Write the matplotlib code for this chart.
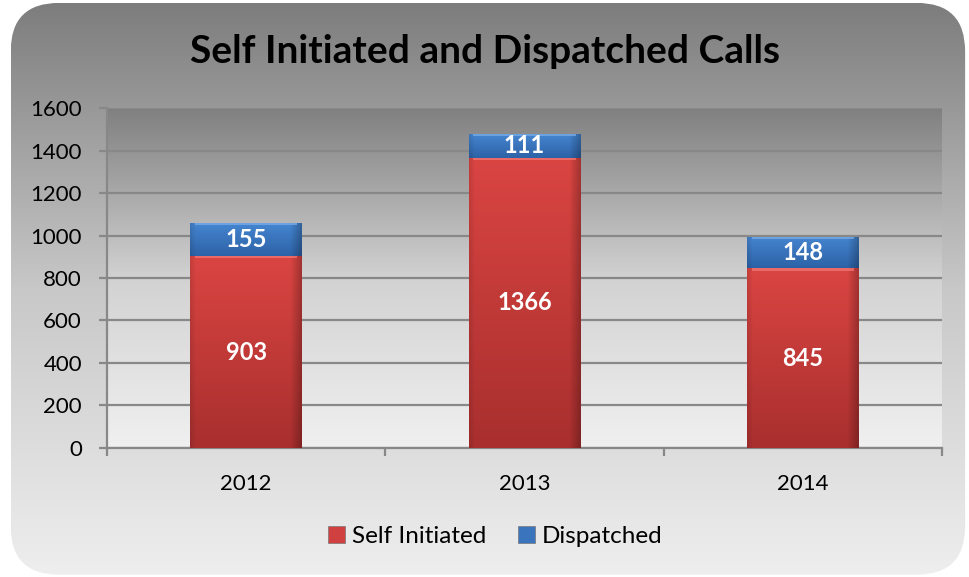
import numpy as np
import matplotlib.pyplot as plt
from matplotlib.patches import FancyBboxPatch
from matplotlib.colors import LinearSegmentedColormap, to_rgb

years = ['2012', '2013', '2014']
self_initiated = [903, 1366, 845]
dispatched = [155, 111, 148]

plt.rcParams['font.family'] = ['Lato', 'DejaVu Sans']


def bar_shade(top, bottom, nx=120, ny=120):
    # vertical gradient with darker edges (bevel look)
    t = np.linspace(0, 1, ny)[:, None, None]
    img = np.array(to_rgb(bottom)) * (1 - t) + np.array(to_rgb(top)) * t
    u = np.linspace(0, 1, nx)
    f = np.ones(nx)
    f = np.where(u < 0.05, 0.9 + 2 * u, f)
    f = np.where(u > 0.9, 1 - (u - 0.9) * 2.5, f)
    return np.clip(img * f[None, :, None], 0, 1)


fig = plt.figure(figsize=(9.69, 5.77), dpi=100)
fig.patch.set_facecolor('white')

# rounded gray background with vertical gradient
bg = fig.add_axes([0, 0, 1, 1], zorder=0)
bg.set_xlim(0, 1)
bg.set_ylim(0, 1)
bg.axis('off')
grad = np.linspace(0, 1, 256).reshape(-1, 1)
bg_cmap = LinearSegmentedColormap.from_list('bg', ['#eeeeee', '#c8c8c8', '#7d7d7d'])
im = bg.imshow(grad, extent=[0.011, 0.996, 0.004, 0.995], origin='lower',
               cmap=bg_cmap, aspect='auto', zorder=0)
frame = FancyBboxPatch((0.011, 0.004), 0.985, 0.991,
                       boxstyle='round,pad=0,rounding_size=0.05',
                       mutation_aspect=969 / 577, transform=bg.transAxes,
                       facecolor='none', edgecolor='none')
bg.add_patch(frame)
im.set_clip_path(frame)

ax = fig.add_axes([0.1104, 0.2236, 0.8617, 0.5892], zorder=1)
ax.set_facecolor('none')
pa_cmap = LinearSegmentedColormap.from_list('pa', ['#f0f0f0', '#d2d2d2', '#808080'])
ax.imshow(grad, extent=[0, 1, 0, 1], origin='lower', cmap=pa_cmap,
          aspect='auto', transform=ax.transAxes, zorder=0)

x = np.arange(len(years))
width = 0.40

ax.yaxis.grid(True, color='#888888', linewidth=1.6, zorder=1)
ax.set_axisbelow(True)

b1 = ax.bar(x, self_initiated, width, color='#d04040', zorder=3)
b2 = ax.bar(x, dispatched, width, bottom=self_initiated, color='#3a74bc', zorder=3)

red_img = bar_shade('#da4542', '#a82f2e')
blue_img = bar_shade('#4585d0', '#2d62a6')

for bars, img, hi in ((b1, red_img, '#f47a76'), (b2, blue_img, '#7fb0ea')):
    for p in bars:
        x0, y0 = p.get_x(), p.get_y()
        w, h = p.get_width(), p.get_height()
        g = ax.imshow(img, extent=[x0, x0 + w, y0, y0 + h], origin='lower',
                      aspect='auto', zorder=4)
        g.set_clip_path(p)
        # light bevel on top edge
        ax.fill_between([x0 + w * 0.04, x0 + w * 0.96], y0 + h - 10, y0 + h,
                        color=hi, alpha=0.7, lw=0, zorder=5)

for i in range(len(years)):
    ax.text(x[i], self_initiated[i] / 2, str(self_initiated[i]), ha='center', va='center',
            color='white', fontsize=17, fontweight='bold', zorder=6)
    ax.text(x[i], self_initiated[i] + dispatched[i] / 2, str(dispatched[i]), ha='center',
            va='center', color='white', fontsize=17, fontweight='bold', zorder=6)

ax.set_ylim(0, 1600)
ax.set_xlim(-0.5, len(years) - 0.5)
ax.set_yticks(np.arange(0, 1601, 200))

for s in ('top', 'right'):
    ax.spines[s].set_visible(False)
for s in ('left', 'bottom'):
    ax.spines[s].set_color('#888888')
    ax.spines[s].set_linewidth(1.6)

ax.set_xticks(np.arange(-0.5, len(years), 1.0))
ax.set_xticklabels([])
ax.set_xticks(x, minor=True)
ax.set_xticklabels(years, minor=True)
ax.tick_params(axis='x', which='major', length=6, color='#888888', width=1.6)
ax.tick_params(axis='x', which='minor', length=0, labelsize=16, pad=19)
ax.tick_params(axis='y', length=6, color='#888888', width=1.6, labelsize=16, pad=12)

fig.text(0.5, 0.91, 'Self Initiated and Dispatched Calls', ha='center', va='center',
         fontsize=28, fontweight='bold', color='black')

leg = ax.legend([b1, b2], ['Self Initiated', 'Dispatched'], loc='center',
                bbox_to_anchor=(0.465, -0.26), ncol=2, frameon=False, fontsize=17.5,
                handlelength=0.7, handleheight=0.7, handletextpad=0.3, columnspacing=1.3)
for h in leg.legend_handles:
    h.set_edgecolor('#777777')
    h.set_linewidth(0.5)

fig.savefig('out.png', dpi=100)
